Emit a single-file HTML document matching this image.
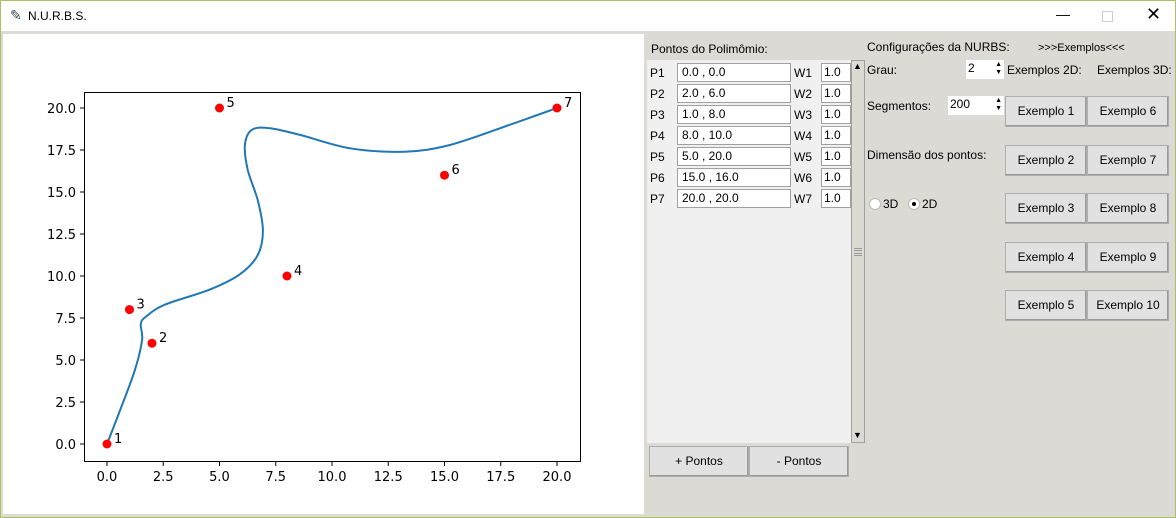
<!DOCTYPE html>
<html><head><meta charset="utf-8"><style>
body{margin:0;width:1176px;height:518px;overflow:hidden;background:#dcdad5;font-family:"Liberation Sans",sans-serif;position:relative}
.a{position:absolute}
.t{position:absolute;font-size:12px;color:#000;white-space:nowrap}
.ent{position:absolute;background:#fff;border:1px solid #a0a0a0;box-sizing:border-box;height:19px;font-size:12px;padding-left:4px;line-height:17px}
.btn{position:absolute;background:#e1e1e1;border:1px solid #adadad;box-shadow:inset -1px -1px #9a9a9a;box-sizing:border-box;font-size:12px;text-align:center;line-height:29px;height:31px}
</style></head><body>
<div class="a" style="left:0;top:0;width:1176px;height:518px;border:1px solid #a9c25d;box-sizing:border-box;z-index:5;pointer-events:none"></div>
<div class="a" style="left:1px;top:1px;width:1174px;height:30px;background:#fff">
 <span class="t" style="left:9px;top:6px;font-size:14px;color:#345">✎</span>
 <span class="t" style="left:27px;top:8px">N.U.R.B.S.</span>
 <span class="t" style="left:1055px;top:5px;font-size:14px">—</span>
 <span class="a" style="left:1101px;top:10px;width:9px;height:9px;border:1px solid #ccc"></span>
 <span class="t" style="left:1145px;top:3px;font-size:18px">✕</span>
</div>
<div class="a" style="left:3px;top:34px;width:641px;height:480px;background:#fff">
<svg width="641" height="480" id="plot" style="position:absolute;left:-3px;top:-34px;overflow:visible"></svg>
</div>

<div class="t" style="left:651px;top:42px">Pontos do Polimômio:</div>
<div class="a" style="left:647px;top:60px;width:204px;height:383px;background:#f0f0f0"></div>
<div class="a" style="left:851px;top:60px;width:14px;height:383px;background:#dcdad5;border:1px solid #a0a0a0;box-sizing:border-box">
 <div class="t" style="left:1px;top:0;font-size:9px">▲</div>
 <div class="a" style="left:2px;top:187px;width:8px;height:8px;border-top:3px double #999;border-bottom:3px double #999;box-sizing:border-box"></div>
 <div class="t" style="left:1px;top:369px;font-size:9px">▼</div>
</div>
<div id="rows"></div>
<div class="btn" style="left:649px;top:446px;width:100px">+ Pontos</div>
<div class="btn" style="left:749px;top:446px;width:100px">- Pontos</div>

<div class="t" style="left:867px;top:40px">Configurações da NURBS:</div>
<div class="t" style="left:1038px;top:42px;font-size:11px">&gt;&gt;&gt;Exemplos&lt;&lt;&lt;</div>
<div class="t" style="left:867px;top:63px">Grau:</div>
<div class="ent" style="left:966px;top:60px;width:38px;border:none;padding-left:2px">2<span class="a" style="right:2px;top:1px;font-size:7px;line-height:8px">▲<br>▼</span></div>
<div class="t" style="left:1007px;top:63px">Exemplos 2D:</div>
<div class="t" style="left:1097px;top:63px">Exemplos 3D:</div>
<div class="t" style="left:867px;top:99px">Segmentos:</div>
<div class="ent" style="left:948px;top:96px;width:56px;border:none;padding-left:2px">200<span class="a" style="right:2px;top:1px;font-size:7px;line-height:8px">▲<br>▼</span></div>
<div class="t" style="left:867px;top:148px">Dimensão dos pontos:</div>
<div class="a" style="left:869px;top:198px;width:10px;height:10px;border-radius:50%;background:#fff;border:1px solid #bbb"></div>
<div class="t" style="left:883px;top:197px">3D</div>
<div class="a" style="left:908px;top:198px;width:10px;height:10px;border-radius:50%;background:#fff;border:1px solid #bbb"><div class="a" style="left:3px;top:3px;width:4px;height:4px;border-radius:50%;background:#000"></div></div>
<div class="t" style="left:922px;top:197px">2D</div>
<div id="exbtns"></div>

<script>
const ptX=[0,2,1,8,5,15,20];
const ptY=[0,6,8,10,20,16,20];
const ptW=[1,1,1,1,1,1,1];
const curveX=[0,0.58,1.24,1.56,1.5,1.75,2.58,4.58,5.9,6.7,6.93,6.7,6.26,6.13,6.44,7.24,8.58,10.8,13.24,15.24,17.9,20];
const curveY=[0,2.0,4.4,6.2,7.15,7.6,8.3,9.2,10.1,11.25,12.7,14.5,16.3,17.8,18.7,18.8,18.4,17.6,17.4,17.8,19.0,20];
const xTicks=[0,2.5,5,7.5,10,12.5,15,17.5,20];
const yTicks=[0,2.5,5,7.5,10,12.5,15,17.5,20];
const sx=v=>107+v*22.5, sy=v=>444-v*16.8;
const NS='http://www.w3.org/2000/svg', svg=document.getElementById('plot');
function mk(t,a){const e=document.createElementNS(NS,t);for(const k in a)e.setAttribute(k,a[k]);svg.appendChild(e);return e;}
const fr=mk('rect',{x:84.5,y:92.5,width:496,height:369,fill:'none',stroke:'#000','stroke-width':1});


xTicks.forEach(v=>{const l=mk('line',{x1:sx(v),x2:sx(v),y1:462,y2:466,stroke:'#000'});


const t=mk('text',{x:sx(v),y:481,'text-anchor':'middle','font-size':13,'font-family':'DejaVu Sans, sans-serif'});t.textContent=v.toFixed(1);

});
yTicks.forEach(v=>{const l=mk('line',{x1:80,x2:84,y1:sy(v),y2:sy(v),stroke:'#000'});


const t=mk('text',{x:76,y:sy(v)+5,'text-anchor':'end','font-size':13,'font-family':'DejaVu Sans, sans-serif'});t.textContent=v.toFixed(1);

});
const P=curveX.map((v,i)=>[sx(v),sy(curveY[i])]);
let d='M'+P[0][0]+','+P[0][1];
for(let i=0;i<P.length-1;i++){const p0=P[Math.max(0,i-1)],p1=P[i],p2=P[i+1],p3=P[Math.min(P.length-1,i+2)];
const c1=[p1[0]+(p2[0]-p0[0])/6,p1[1]+(p2[1]-p0[1])/6],c2=[p2[0]-(p3[0]-p1[0])/6,p2[1]-(p3[1]-p1[1])/6];
d+='C'+c1[0].toFixed(1)+','+c1[1].toFixed(1)+' '+c2[0].toFixed(1)+','+c2[1].toFixed(1)+' '+p2[0].toFixed(1)+','+p2[1].toFixed(1);}
const c=mk('path',{d:d,fill:'none',stroke:'#1f77b4','stroke-width':2,'stroke-linejoin':'round'});


ptX.forEach((v,i)=>{const p=mk('circle',{cx:sx(v),cy:sy(ptY[i]),r:4.5,fill:'#ff0000'});


const t=mk('text',{x:sx(v)+7,y:sy(ptY[i])-1,'font-size':13,'font-family':'DejaVu Sans, sans-serif'});t.textContent=String(i+1);

});
const rows=document.getElementById('rows');
const f=v=>v.toFixed(1);
ptX.forEach((v,i)=>{const y=63+i*21;
rows.insertAdjacentHTML('beforeend',
`<div class="t" style="left:650px;top:${y+3}px">P${i+1}</div>`+
`<div class="ent" style="left:677px;top:${y}px;width:114px">${f(v)} , ${f(ptY[i])}</div>`+
`<div class="t" style="left:794px;top:${y+3}px">W${i+1}</div>`+
`<div class="ent" style="left:821px;top:${y}px;width:30px;padding-left:2px">${f(ptW[i])}</div>`);});
const ex=document.getElementById('exbtns');
[96,145,193,242,290].forEach((y,i)=>{
ex.insertAdjacentHTML('beforeend',
`<div class="btn" style="left:1005px;top:${y}px;width:82px">Exemplo ${i+1}</div>`+
`<div class="btn" style="left:1087px;top:${y}px;width:82px">Exemplo ${i+6}</div>`);});
</script>
</body></html>
